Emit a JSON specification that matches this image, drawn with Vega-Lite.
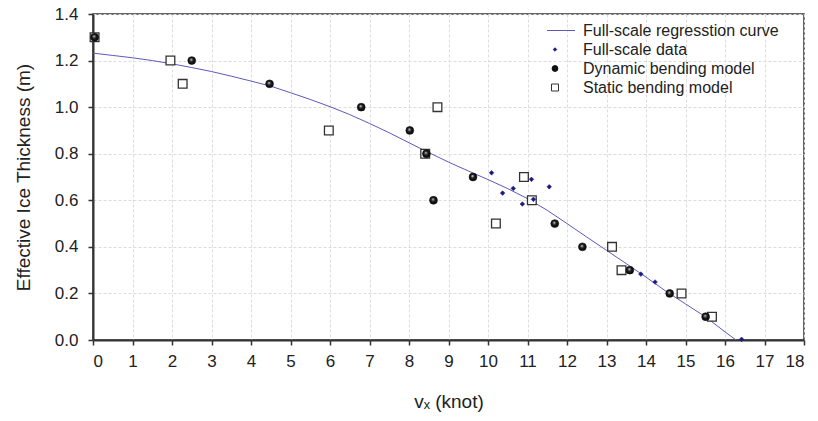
{
  "$schema": "https://vega.github.io/schema/vega-lite/v6.json",
  "width": 711,
  "height": 326,
  "autosize": {"type": "none"},
  "padding": {"left": 93, "top": 14, "right": 14, "bottom": 81},
  "background": "white",
  "config": {
    "font": "Liberation Sans",
    "view": {"stroke": "#333333", "strokeWidth": 1.5},
    "point": {"opacity": 1},
    "axis": {
      "domainColor": "#333333",
      "domainWidth": 2,
      "tickColor": "#333333",
      "tickWidth": 1.5,
      "tickSize": 5,
      "labelFont": "Liberation Sans",
      "labelFontSize": 17,
      "labelColor": "#222222",
      "titleFont": "Liberation Sans",
      "titleFontSize": 19,
      "titleFontWeight": "normal",
      "titleColor": "#222222",
      "gridColor": "#dcdcdc",
      "gridDash": [3, 2],
      "gridWidth": 1
    },
    "legend": {
      "labelFont": "Liberation Sans",
      "labelFontSize": 16,
      "labelColor": "#222222",
      "labelLimit": 400,
      "symbolSize": 49,
      "symbolStrokeWidth": 1,
      "symbolOpacity": 1,
      "clipHeight": 19,
      "rowPadding": 0,
      "padding": 0,
      "labelOffset": 20
    }
  },
  "data": {
    "values": [
      {"vx": 0, "h": 1.232, "series": "Full-scale regresstion curve"},
      {"vx": 0.5, "h": 1.222, "series": "Full-scale regresstion curve"},
      {"vx": 1, "h": 1.212, "series": "Full-scale regresstion curve"},
      {"vx": 1.5, "h": 1.2, "series": "Full-scale regresstion curve"},
      {"vx": 2, "h": 1.186, "series": "Full-scale regresstion curve"},
      {"vx": 2.5, "h": 1.17, "series": "Full-scale regresstion curve"},
      {"vx": 3, "h": 1.153, "series": "Full-scale regresstion curve"},
      {"vx": 3.5, "h": 1.133, "series": "Full-scale regresstion curve"},
      {"vx": 4, "h": 1.112, "series": "Full-scale regresstion curve"},
      {"vx": 4.5, "h": 1.09, "series": "Full-scale regresstion curve"},
      {"vx": 5, "h": 1.062, "series": "Full-scale regresstion curve"},
      {"vx": 5.5, "h": 1.033, "series": "Full-scale regresstion curve"},
      {"vx": 6, "h": 1.002, "series": "Full-scale regresstion curve"},
      {"vx": 6.5, "h": 0.968, "series": "Full-scale regresstion curve"},
      {"vx": 7, "h": 0.93, "series": "Full-scale regresstion curve"},
      {"vx": 7.5, "h": 0.89, "series": "Full-scale regresstion curve"},
      {"vx": 8, "h": 0.847, "series": "Full-scale regresstion curve"},
      {"vx": 8.5, "h": 0.805, "series": "Full-scale regresstion curve"},
      {"vx": 9, "h": 0.764, "series": "Full-scale regresstion curve"},
      {"vx": 9.5, "h": 0.726, "series": "Full-scale regresstion curve"},
      {"vx": 10, "h": 0.689, "series": "Full-scale regresstion curve"},
      {"vx": 10.5, "h": 0.65, "series": "Full-scale regresstion curve"},
      {"vx": 11, "h": 0.607, "series": "Full-scale regresstion curve"},
      {"vx": 11.5, "h": 0.557, "series": "Full-scale regresstion curve"},
      {"vx": 12, "h": 0.5, "series": "Full-scale regresstion curve"},
      {"vx": 12.5, "h": 0.442, "series": "Full-scale regresstion curve"},
      {"vx": 13, "h": 0.385, "series": "Full-scale regresstion curve"},
      {"vx": 13.5, "h": 0.328, "series": "Full-scale regresstion curve"},
      {"vx": 14, "h": 0.27, "series": "Full-scale regresstion curve"},
      {"vx": 14.5, "h": 0.21, "series": "Full-scale regresstion curve"},
      {"vx": 15, "h": 0.155, "series": "Full-scale regresstion curve"},
      {"vx": 15.5, "h": 0.1, "series": "Full-scale regresstion curve"},
      {"vx": 16, "h": 0.035, "series": "Full-scale regresstion curve"},
      {"vx": 16.28, "h": 0, "series": "Full-scale regresstion curve"},

      {"vx": 10.09, "h": 0.718, "series": "Full-scale data"},
      {"vx": 10.37, "h": 0.631, "series": "Full-scale data"},
      {"vx": 10.64, "h": 0.651, "series": "Full-scale data"},
      {"vx": 10.87, "h": 0.584, "series": "Full-scale data"},
      {"vx": 11.1, "h": 0.69, "series": "Full-scale data"},
      {"vx": 11.15, "h": 0.604, "series": "Full-scale data"},
      {"vx": 11.55, "h": 0.658, "series": "Full-scale data"},
      {"vx": 13.87, "h": 0.283, "series": "Full-scale data"},
      {"vx": 14.23, "h": 0.249, "series": "Full-scale data"},
      {"vx": 16.42, "h": 0.003, "series": "Full-scale data"},

      {"vx": 0.04, "h": 1.3, "series": "Static bending model"},
      {"vx": 1.96, "h": 1.2, "series": "Static bending model"},
      {"vx": 2.27, "h": 1.1, "series": "Static bending model"},
      {"vx": 5.97, "h": 0.9, "series": "Static bending model"},
      {"vx": 8.41, "h": 0.8, "series": "Static bending model"},
      {"vx": 8.72, "h": 1.0, "series": "Static bending model"},
      {"vx": 10.2, "h": 0.5, "series": "Static bending model"},
      {"vx": 10.91, "h": 0.7, "series": "Static bending model"},
      {"vx": 11.11, "h": 0.6, "series": "Static bending model"},
      {"vx": 13.14, "h": 0.4, "series": "Static bending model"},
      {"vx": 13.38, "h": 0.3, "series": "Static bending model"},
      {"vx": 14.9, "h": 0.2, "series": "Static bending model"},
      {"vx": 15.67, "h": 0.1, "series": "Static bending model"},

      {"vx": 0.04, "h": 1.3, "series": "Dynamic bending model"},
      {"vx": 2.5, "h": 1.2, "series": "Dynamic bending model"},
      {"vx": 4.47, "h": 1.1, "series": "Dynamic bending model"},
      {"vx": 6.79, "h": 1.0, "series": "Dynamic bending model"},
      {"vx": 8.02, "h": 0.9, "series": "Dynamic bending model"},
      {"vx": 8.44, "h": 0.8, "series": "Dynamic bending model"},
      {"vx": 8.62, "h": 0.6, "series": "Dynamic bending model"},
      {"vx": 9.62, "h": 0.7, "series": "Dynamic bending model"},
      {"vx": 11.69, "h": 0.5, "series": "Dynamic bending model"},
      {"vx": 12.39, "h": 0.4, "series": "Dynamic bending model"},
      {"vx": 13.59, "h": 0.3, "series": "Dynamic bending model"},
      {"vx": 14.6, "h": 0.2, "series": "Dynamic bending model"},
      {"vx": 15.51, "h": 0.1, "series": "Dynamic bending model"}
    ]
  },
  "encoding": {
    "x": {
      "field": "vx",
      "type": "quantitative",
      "scale": {"domain": [0, 18], "nice": false, "zero": false},
      "axis": {
        "title": "vₓ (knot)",
        "values": [0, 1, 2, 3, 4, 5, 6, 7, 8, 9, 10, 11, 12, 13, 14, 15, 16, 17, 18],
        "format": "d",
        "labelPadding": 8,
        "titlePadding": 23
      }
    },
    "y": {
      "field": "h",
      "type": "quantitative",
      "scale": {"domain": [0, 1.4], "nice": false},
      "axis": {
        "title": "Effective Ice Thickness (m)",
        "values": [0, 0.2, 0.4, 0.6, 0.8, 1.0, 1.2, 1.4],
        "format": ".1f",
        "labelPadding": 10,
        "titlePadding": 21
      }
    }
  },
  "layer": [
    {
      "transform": [{"filter": "datum.series === 'Full-scale regresstion curve'"}],
      "mark": {"type": "line", "strokeWidth": 1, "clip": true},
      "encoding": {
        "stroke": {
          "field": "series",
          "type": "nominal",
          "scale": {
            "domain": ["Full-scale regresstion curve", "Full-scale data", "Dynamic bending model", "Static bending model"],
            "range": ["#5b5bb8", "#1c1c80", "#111111", "#333333"]
          },
          "legend": {
            "title": null,
            "orient": "none",
            "legendX": 454,
            "legendY": 7,
            "encode": {
              "symbols": {
                "update": {
                  "size": {"signal": "datum.value === 'Full-scale regresstion curve' ? 1600 : datum.value === 'Full-scale data' ? 12 : datum.value === 'Dynamic bending model' ? 34 : 49"}
                }
              }
            }
          }
        }
      }
    },
    {
      "transform": [{"filter": "datum.series === 'Static bending model'"}],
      "mark": {"type": "point", "filled": true, "strokeWidth": 1.3, "size": 76},
      "encoding": {
        "stroke": {"field": "series", "type": "nominal"},
        "fill": {
          "field": "series",
          "type": "nominal",
          "scale": {
            "domain": ["Full-scale regresstion curve", "Full-scale data", "Dynamic bending model", "Static bending model"],
            "range": ["transparent", "#1c1c80", "#111111", "#ffffff"]
          }
        },
        "shape": {
          "field": "series",
          "type": "nominal",
          "scale": {
            "domain": ["Full-scale regresstion curve", "Full-scale data", "Dynamic bending model", "Static bending model"],
            "range": ["stroke", "diamond", "circle", "square"]
          }
        }
      }
    },
    {
      "transform": [{"filter": "datum.series === 'Dynamic bending model'"}],
      "mark": {
        "type": "point",
        "filled": true,
        "strokeWidth": 0.6,
        "size": 62,
        "fill": {
          "gradient": "radial",
          "x1": 0.42, "y1": 0.36, "r1": 0,
          "x2": 0.5, "y2": 0.5, "r2": 0.55,
          "stops": [
            {"offset": 0, "color": "#ffffff"},
            {"offset": 0.16, "color": "#9a9a9a"},
            {"offset": 0.4, "color": "#222222"},
            {"offset": 1, "color": "#000000"}
          ]
        }
      },
      "encoding": {
        "stroke": {"field": "series", "type": "nominal"},
        "shape": {"field": "series", "type": "nominal"}
      }
    },
    {
      "transform": [{"filter": "datum.series === 'Full-scale data'"}],
      "mark": {"type": "point", "filled": true, "strokeWidth": 0.5, "size": 22},
      "encoding": {
        "stroke": {"field": "series", "type": "nominal"},
        "fill": {"field": "series", "type": "nominal"},
        "shape": {"field": "series", "type": "nominal"}
      }
    }
  ]
}
